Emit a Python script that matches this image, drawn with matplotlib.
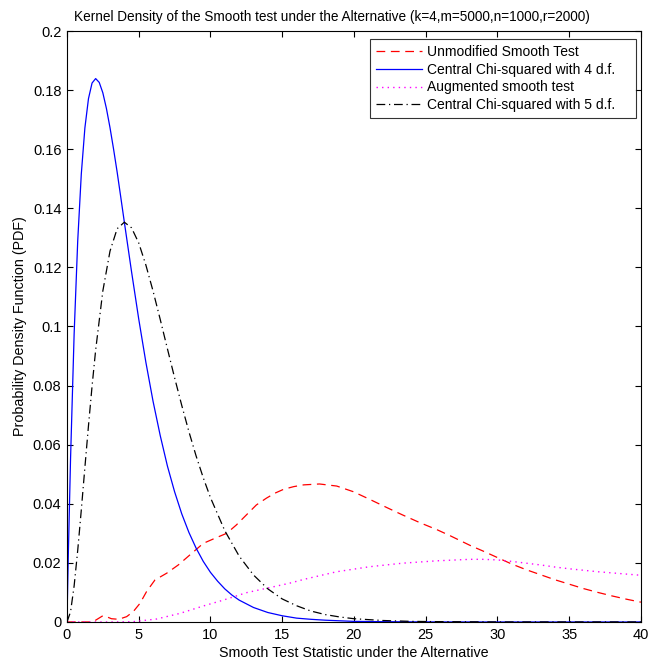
import numpy as np
import matplotlib
matplotlib.use("Agg")
from matplotlib import pyplot as plt

plt.rcParams["font.family"] = ["Liberation Sans", "DejaVu Sans"]
plt.rcParams.update({"font.size": 10})

# --- values ---
x_chi4 = [0, 0.1, 0.25, 0.5, 0.75, 1, 1.25, 1.5, 1.75, 2, 2.25, 2.5, 2.75, 3, 3.25, 3.5, 3.75, 4, 4.5, 5,
          5.5, 6, 6.5, 7, 7.5, 8, 8.5, 9, 9.5, 10, 10.5, 11, 11.5, 12, 13, 14, 15, 16, 17, 18, 20, 22, 25, 30, 40]
y_chi4 = [0, 0.0238, 0.0551, 0.0974, 0.1289, 0.1516, 0.1672, 0.1771, 0.1824, 0.1839, 0.1826, 0.1791, 0.1738,
          0.1673, 0.1600, 0.1522, 0.1438, 0.1353, 0.1186, 0.1026, 0.0879, 0.0747, 0.0631, 0.0528, 0.0441,
          0.0366, 0.0303, 0.0250, 0.0205, 0.0168, 0.0138, 0.0112, 0.0091, 0.0074, 0.0049, 0.0032, 0.0021,
          0.0013, 0.0009, 0.0006, 0.0002, 0.0001, 0.00002, 0, 0]

x_chi5 = [0, 0.25, 0.5, 0.75, 1, 1.25, 1.5, 1.75, 2, 2.5, 3, 3.5, 4, 4.5, 5, 5.5, 6, 6.5, 7, 7.5, 8, 8.5,
          9, 9.5, 10, 11, 12, 13, 14, 15, 16, 17, 18, 19, 20, 22, 24, 26, 30, 40]
y_chi5 = [0, 0.0034, 0.0122, 0.0242, 0.0379, 0.0523, 0.0664, 0.0798, 0.0920, 0.1120, 0.1255, 0.1331, 0.1353,
          0.1334, 0.1283, 0.1208, 0.1120, 0.1024, 0.0925, 0.0827, 0.0733, 0.0644, 0.0562, 0.0488, 0.0421,
          0.0309, 0.0223, 0.0159, 0.0112, 0.0078, 0.0055, 0.0037, 0.0025, 0.0017, 0.0011, 0.0005, 0.0002,
          0.0001, 0, 0]

x_unmod = [0, 1.8, 2.2, 2.5, 2.8, 3.1, 3.6, 4.16, 4.62, 5.09, 5.55, 6.13, 6.95, 7.76, 8.57, 9.5, 10.3, 11.13,
           11.8, 12.5, 13.2, 13.9, 14.5, 15.1, 15.8, 16.5, 17.6, 18.8, 19.95, 21.1, 22.3, 23.4, 24.6, 25.8,
           26.7, 28.1, 29.0, 30.0, 31.0, 32.0, 33.0, 34.0, 35.0, 36.0, 37.0, 38.0, 39.0, 40.0]
y_unmod = [0, 0, 0.0012, 0.0021, 0.0017, 0.0011, 0.0009, 0.0018, 0.0035, 0.0063, 0.0103, 0.0142, 0.0165,
           0.0193, 0.0227, 0.0266, 0.0283, 0.0300, 0.0328, 0.0362, 0.0396, 0.0419, 0.0436, 0.0449, 0.0458,
           0.0464, 0.0467, 0.0460, 0.0441, 0.0415, 0.0387, 0.0362, 0.0336, 0.0312, 0.0292, 0.0259, 0.0240,
           0.0218, 0.0196, 0.0177, 0.0160, 0.0143, 0.0128, 0.0113, 0.0100, 0.0088, 0.0077, 0.0067]

x_aug = [0, 3.0, 4.62, 6.25, 7.87, 9.5, 10.9, 12.5, 14.1, 15.5, 16.5, 18.8, 21.1, 23.4, 25.8, 28.1, 29.0,
         30.0, 31.0, 32.0, 33.0, 34.0, 35.0, 36.0, 37.0, 38.0, 39.0, 40.0]
y_aug = [0, 0, 0.0001, 0.0010, 0.0029, 0.0054, 0.0074, 0.0099, 0.0116, 0.0131, 0.0144, 0.0170, 0.0187,
         0.0199, 0.0207, 0.0212, 0.0212, 0.0210, 0.0205, 0.0199, 0.0193, 0.0186, 0.0180, 0.0175, 0.0170,
         0.0166, 0.0162, 0.0158]

fig = plt.figure(figsize=(6.5, 6.64), dpi=100)
ax = fig.add_axes([0.103, 0.0633, 0.883, 0.89])

ax.plot(x_unmod, y_unmod, color="red", linestyle=(0, (7, 4.5)), linewidth=0.9, label="Unmodified Smooth Test")
ax.plot(x_chi4, y_chi4, color="blue", linewidth=0.9, label="Central Chi-squared with 4 d.f.")
ax.plot(x_aug, y_aug, color="magenta", linestyle=(0, (1, 3)), linewidth=1.0, label="Augmented smooth test")
ax.plot(x_chi5, y_chi5, color="black", linestyle=(0, (7, 3, 1, 3)), linewidth=0.9,
        label="Central Chi-squared with 5 d.f.")

ax.set_xlim(0, 40)
ax.set_ylim(0, 0.2)
ax.set_xticks(np.arange(0, 41, 5))
ax.set_yticks(np.arange(0, 0.201, 0.02))
ax.set_yticklabels(["0", "0.02", "0.04", "0.06", "0.08", "0.1", "0.12", "0.14", "0.16", "0.18", "0.2"])
ax.tick_params(direction="in", top=True, right=True, length=4, labelsize=10.5, pad=4)
for s in ax.spines.values():
    s.set_linewidth(0.8)

ax.set_title("Kernel Density of the Smooth test under the Alternative (k=4,m=5000,n=1000,r=2000)",
             fontsize=9.8, pad=7, x=0.462)
ax.set_xlabel("Smooth Test Statistic under the Alternative", fontsize=10.3, labelpad=3)
ax.set_ylabel("Probability Density Function (PDF)", fontsize=10.3, labelpad=4)

# legend box stretched to the MATLAB width, text left aligned
leg = ax.legend(loc="upper left", bbox_to_anchor=(0.528, 0.7865, 0.4634, 0.2), mode="expand",
                fontsize=10, frameon=True, fancybox=False, edgecolor="black", handlelength=3.3,
                handletextpad=0.35, borderpad=0.45, labelspacing=0.26, borderaxespad=0)
leg.get_frame().set_linewidth(0.8)

fig.savefig("out.png", dpi=100)
